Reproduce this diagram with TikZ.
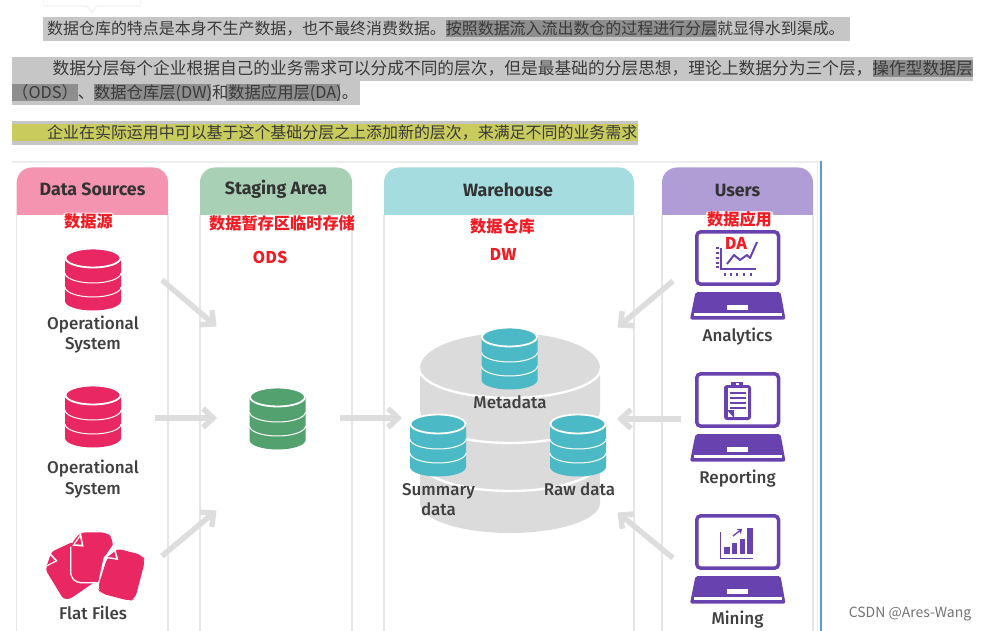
\documentclass[tikz,border=0pt]{standalone}
\usepackage{fontspec}
\setmainfont{Noto Sans CJK SC}
\newfontfamily\lab{Fira Sans}
\newfontfamily\labm{Fira Sans Medium}
\usetikzlibrary{arrows.meta}
\definecolor{barG}{HTML}{C6C6C6}
\definecolor{barD}{HTML}{8E8E8E}
\definecolor{barY}{HTML}{C9CB5C}
\definecolor{bodyT}{HTML}{3A3A3A}
\definecolor{panelL}{HTML}{E6E6E6}
\definecolor{arrowG}{HTML}{DDDDDD}
\definecolor{hPink}{HTML}{F494B0}
\definecolor{hGreen}{HTML}{A7D0B5}
\definecolor{hTeal}{HTML}{A5DCE0}
\definecolor{hPurple}{HTML}{B09DD5}
\definecolor{dPink}{HTML}{E92763}
\definecolor{dGreen}{HTML}{52A16F}
\definecolor{dTeal}{HTML}{4BB9C6}
\definecolor{dPurple}{HTML}{6842AE}
\definecolor{blueL}{HTML}{5B9BD5}
\definecolor{redT}{HTML}{F21B24}
\tikzset{
  para/.style={anchor=base west,inner sep=0pt,text=bodyT,font=\fontsize{15.95}{16}\selectfont},
  parab/.style={para,font=\fontsize{16.73}{17}\selectfont},
  parac/.style={para,font=\fontsize{16.3}{17}\selectfont},
  headtxt/.style={inner sep=0pt,text=black!80,font=\lab\bfseries\fontsize{17.8}{18}\selectfont},
  lbl/.style={inner sep=0pt,align=center,text=black!75,font=\labm\fontsize{17}{20.5}\selectfont},
  redlbl/.style={inner xsep=1.5pt,inner ysep=.5pt,rounded corners=3pt,fill=white,fill opacity=.75,text opacity=1,text=redT,font=\bfseries\fontsize{16.2}{18}\selectfont},
  flowarrow/.style={draw=arrowG,line width=5.5pt,-{Straight Barb[length=10pt,width=19pt,line width=5.5pt]}},
  panelside/.style={draw=panelL,line width=1.3pt},
}
% db icon: centre x, top y, colour
\newcommand{\dbicon}[3]{%
  \fill[#3] (#1-28,#2+10) -- (#1-28,#2+53) arc[start angle=180,end angle=360,x radius=28pt,y radius=9.5pt] -- (#1+28,#2+10) arc[start angle=0,end angle=180,x radius=28pt,y radius=10pt] -- cycle;
  \draw[white,line width=1pt] (#1-28,#2+25) arc[start angle=180,end angle=360,x radius=28pt,y radius=10pt];
  \draw[white,line width=1pt] (#1-28,#2+39) arc[start angle=180,end angle=360,x radius=28pt,y radius=10pt];
  \draw[white,line width=1.8pt] (#1,#2+10) ellipse[x radius=27.5pt,y radius=9.5pt];
}
% laptop: top y of screen
\newcommand{\laptopicon}[1]{%
  \draw[dPurple,line width=3.5pt,rounded corners=4pt] (696.8,#1+1.8) rectangle (778.5,#1+54.2);
  \fill[dPurple,rounded corners=2pt] (695.5,#1+62) -- (780.5,#1+62) -- (785.5,#1+89.5) -- (690,#1+89.5) -- cycle;
  \fill[white] (727,#1+75) rectangle (748,#1+80);
  \fill[white] (694,#1+83) rectangle (782,#1+86);
}
\begin{document}
\begin{tikzpicture}[x=1pt,y=-1pt]
\useasboundingbox (0,0) rectangle (988,631);
\fill[white] (0,0) rectangle (988,631);
% tooltip remnant
\fill[black!4] (43,0) -- (43,5) [rounded corners=2pt] -- (44,7) -- (87,7) [sharp corners] -- (92,14) -- (97,7) -- (140,7) -- (141,5) -- (141,0) -- cycle;
\fill[white] (44,0) -- (44,5.5) -- (88,5.5) -- (92,11) -- (96,5.5) -- (140,5.5) -- (140,0) -- cycle;
% text bars
\fill[barG] (43,17) rectangle (850,41);
\fill[barD] (446,20) rectangle (717,37);
\fill[barG] (12,57) rectangle (973,81);
\fill[barG] (12,81) rectangle (360,105);
\fill[barD] (873,60) rectangle (973,77);
\fill[barD] (12,84) rectangle (78,101);
\fill[barD] (94,84) rectangle (211,101);
\fill[barD] (226,84) rectangle (340,101);
\fill[barG] (12,121) rectangle (638,145);
\fill[barY] (12,124) rectangle (638,141);
\node[para] (t1) at (47,35) {数据仓库的特点是本身不生产数据，也不最终消费数据。按照数据流入流出数仓的过程进行分层就显得水到渠成。};
\node[parab] (t2) at (52.5,75) {数据分层每个企业根据自己的业务需求可以分成不同的层次，但是最基础的分层思想，理论上数据分为三个层，操作型数据层};
\node[parac] (t3) at (12,99) {（ODS）、数据仓库层(DW)和数据应用层(DA)。};
\node[para] (t4) at (47,139) {企业在实际运用中可以基于这个基础分层之上添加新的层次，来满足不同的业务需求};
% frame
\draw[black!7,line width=1.3pt] (12,162) -- (820,162);
\draw[black!6,line width=1pt] (817,162) -- (817,631);
\draw[blueL,line width=1.6pt] (821,161) -- (821,631);
% panels
\foreach \xa/\xb/\col in {16.7/168/hPink,200/352/hGreen,384/634/hTeal,662/813/hPurple}{
  \fill[\col] (\xa,215) {[rounded corners=15pt] -- (\xa,167.5) -- (\xb,167.5)} -- (\xb,215) -- cycle;
  \draw[panelside] (\xa,215) -- (\xa,631);
  \draw[panelside] (\xb,215) -- (\xb,631);
}
\node[headtxt] (h1) at (92.5,189.5) {Data Sources};
\node[headtxt] (h2) at (276,189) {Staging Area};
\node[headtxt] (h3) at (508,189.5) {Warehouse};
\node[headtxt] (h4) at (737.5,190) {Users};
% arrows
\coordinate (a1s) at (162,280); \coordinate (a1e) at (216.5,326.5);
\coordinate (a2s) at (155,418); \coordinate (a2e) at (217,418);
\coordinate (a3s) at (162,556); \coordinate (a3e) at (216.5,510.5);
\coordinate (a4s) at (340,418); \coordinate (a4e) at (402,418);
\coordinate (a5s) at (673,281); \coordinate (a5e) at (617.5,327.5);
\coordinate (a6s) at (681,419); \coordinate (a6e) at (617,419);
\coordinate (a7s) at (673,558); \coordinate (a7e) at (617.5,512.5);
\foreach \n in {1,...,7}{\draw[flowarrow] (a\n s) -- (a\n e);}
% sources
\dbicon{93}{248}{dPink}
\dbicon{93}{385}{dPink}
\node[lbl] (o1) at (93,334.5) {Operational\\System};
\node[lbl] (o2) at (93,479) {Operational\\System};
% flat files
\begin{scope}[shift={(35,525)},x=.3333pt,y=-.3333pt]
  \fill[dPink,rounded corners=3pt] (50,80) -- (115,50) -- (180,170) -- (105,222) -- (85,222) -- (32,135) -- cycle;
  \fill[white] (44,82) -- (28,128) -- (68,108) -- cycle;
  \fill[dPink] (46,92) -- (36,120) -- (60,107) -- cycle;
  \fill[dPink,rounded corners=6pt] (135,22) -- (215,22) -- (233,40) -- (233,135) -- (190,175) -- (125,175) -- (107,155) -- (107,60) -- cycle;
  \draw[white,line width=1.3pt,rounded corners=4pt] (107,65) -- (107,155) -- (125,173) -- (192,173);
  \fill[white] (138,25) -- (112,62) -- (146,65) -- cycle;
  \fill[dPink] (135,36) -- (120,58) -- (140,59) -- cycle;
  \fill[white] (232,62) -- (205,102) -- (186,190) -- (193,210) -- (240,230) -- (240,62) -- cycle;
  \fill[dPink,rounded corners=6pt] (243,70) -- (322,90) -- (330,108) -- (300,222) -- (285,228) -- (197,205) -- (188,190) -- (216,100) -- cycle;
  \fill[white] (240,68) -- (205,98) -- (250,105) -- cycle;
  \fill[dPink] (238,80) -- (218,96) -- (243,99) -- cycle;
\end{scope}
\node[lbl] (ff) at (93,612.5) {Flat Files};
% staging
\dbicon{277.5}{387}{dGreen}
% warehouse
\fill[black!14] (420,368) -- (420,503) arc[start angle=180,end angle=360,x radius=90pt,y radius=30pt] -- (600,368) arc[start angle=0,end angle=180,x radius=90pt,y radius=35pt] -- cycle;
\draw[white,line width=2.4pt] (419,368) arc[start angle=180,end angle=360,x radius=91pt,y radius=30pt];
\draw[white,line width=2.4pt] (419,412) arc[start angle=180,end angle=360,x radius=91pt,y radius=31pt];
\draw[white,line width=2.4pt] (419,460) arc[start angle=180,end angle=360,x radius=91pt,y radius=31pt];
\dbicon{509.5}{327}{dTeal}
\dbicon{438}{414}{dTeal}
\dbicon{578}{414}{dTeal}
\node[lbl] (m) at (510,402) {Metadata};
\node[lbl] (s) at (438.5,499.5) {Summary\\data};
\node[lbl] (r) at (579.5,489) {Raw data};
% users
\laptopicon{230}
\laptopicon{372}
\laptopicon{514}
\node[lbl] (u1) at (737.5,337) {Analytics};
\node[lbl] (u2) at (737.5,478.5) {Reporting};
\node[lbl] (u3) at (737.5,619.5) {Mining};
% analytics chart
\draw[dPurple,line width=1.5pt] (721,248) -- (721,269) -- (756,269);
\draw[dPurple,line width=2pt,line join=round] (727,264) -- (734,255) -- (740,260) -- (747,255) -- (750,258) -- (757,242);
\foreach \v in {248,253,258,263,267} \fill[dPurple] (715.5,\v-.7) rectangle (718.5,\v+.7);
\foreach \v in {725,731,737,744,751} \fill[dPurple] (\v-.7,272.5) rectangle (\v+.7,275.5);
% reporting clipboard
\fill[dPurple,rounded corners=3pt] (724,385) rectangle (751,420);
\fill[white] (727.5,388) rectangle (747.5,417);
\fill[dPurple] (731,381.5) rectangle (743,388);
\fill[white] (736,383) rectangle (739,385);
\foreach \v in {393,398,403,408} \fill[dPurple] (729.5,\v-.8) rectangle (746,\v+.8);
\fill[dPurple] (727,410) -- (734,410) -- (734,418) -- cycle;
% mining chart
\draw[dPurple,line width=1pt] (720,532) -- (720,558) -- (753,558);
\foreach \xa/\xb/\ya in {724/730/547,732/737/543,740/745/539,747/753/528} \fill[dPurple] (\xa,\ya) rectangle (\xb,554);
\coordinate (ms) at (733,536); \coordinate (me) at (742,529);
\draw[dPurple,line width=1.3pt,-{Straight Barb[length=3pt,width=5pt]}] (ms) -- (me);
% red labels
\node[redlbl] (r1) at (88.5,221) {数据源};
\node[redlbl] (r2) at (282,223) {数据暂存区临时存储};
\node[redlbl] (r3) at (270,257) {ODS};
\node[redlbl] (r4) at (502.5,226) {数据仓库};
\node[redlbl] (r5) at (503,254) {DW};
\node[redlbl] (r6) at (739.5,219.5) {数据应用};
\node[redlbl,fill opacity=.4] (r7) at (736,243.5) {DA};
% watermark
\node[inner sep=0pt,text=black!55,font=\fontsize{14}{14}\selectfont] (wm) at (910,614) {CSDN @Ares-Wang};
\end{tikzpicture}
\end{document}
